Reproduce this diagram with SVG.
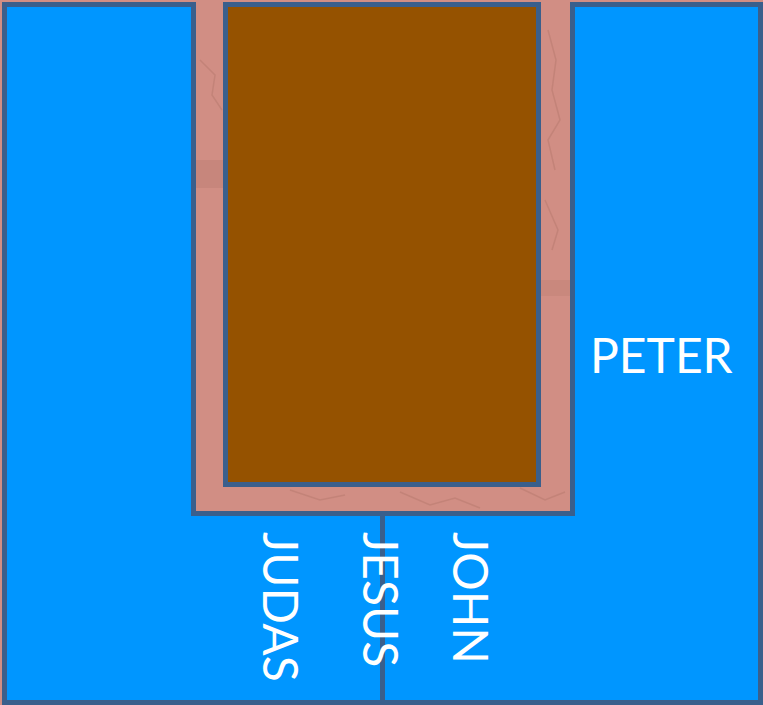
<svg xmlns="http://www.w3.org/2000/svg" width="763" height="705" viewBox="0 0 763 705">
<style>
.edge{stroke:#3A5F8C;stroke-width:5;stroke-linejoin:miter}
.lbl{font-family:Lato,"Open Sans","Liberation Sans",sans-serif;font-size:48px;fill:#FFFFFF}
.vein{fill:none;stroke:#B87A70;stroke-width:1.5;opacity:0.55}
</style>
<g id="background">
<rect x="0" y="0" width="763" height="705" fill="#D18E84"/>
<path class="vein" d="M200,60 L215,75 L212,95 L222,110"/>
<path class="vein" d="M548,30 L556,60 L552,90 L560,120 L548,140 L555,170"/>
<path class="vein" d="M545,200 L558,230 L552,250"/>
<path class="vein" d="M400,492 L430,505 L455,498 L480,508"/>
<path class="vein" d="M290,490 L320,500 L345,495"/>
<path class="vein" d="M520,488 L545,500 L565,492"/>
<rect x="196" y="160" width="28" height="28" fill="#BF8076" opacity="0.55"/>
<rect x="541" y="280" width="29" height="16" fill="#BF8076" opacity="0.45"/>
</g>
<g id="couches">
<path class="edge" fill="#0096FF" d="M4.5,4.5 H193.5 V513.5 H572.5 V4.5 H760.5 V702.5 H4.5 Z"/>
</g>
<g id="table">
<rect class="edge" x="225.5" y="4.5" width="313" height="480" fill="#955200"/>
</g>
<g id="connectors">
<line class="edge" x1="382.5" y1="513.5" x2="382.5" y2="702.5"/>
</g>
<g id="peter"><text class="lbl" x="590" y="373">PETER</text></g>
<g id="judas"><text class="lbl" transform="translate(263,532) rotate(90)">JUDAS</text></g>
<g id="jesus"><text class="lbl" transform="translate(363,532) rotate(90)">JESUS</text></g>
<g id="john"><text class="lbl" transform="translate(453,532) rotate(90)">JOHN</text></g>
</svg>
